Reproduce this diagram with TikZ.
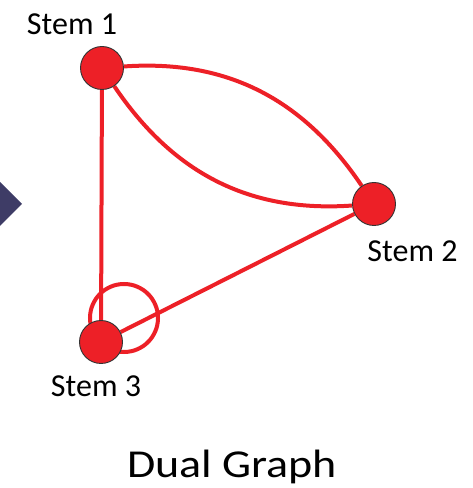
\documentclass[tikz,border=0pt]{standalone}
\usepackage{fontspec}
\setmainfont{Carlito}
\definecolor{stemred}{RGB}{237,32,39}
\definecolor{navy}{RGB}{62,60,102}
\begin{document}
\begin{tikzpicture}[x=1pt,y=1pt,
  stem/.style={circle,fill=stemred,draw=black!80,line width=0.9pt,minimum size=43pt,inner sep=0pt},
  edge/.style={draw=stemred,line width=4pt},
  lbl/.style={anchor=base,inner sep=0pt,font=\fontsize{32}{36}\selectfont}]
\useasboundingbox (0,0) rectangle (472,488);
% chevron pointing into the graph
\fill[navy] (0,306) -- (22,284) -- (0,262) -- cycle;
% edges
\coordinate (s1c) at (102,420);
\coordinate (s2c) at (374,284);
\coordinate (s3c) at (101,146);
\node[stem,fill=none,draw=none] (s1) at (s1c) {};
\node[stem,fill=none,draw=none] (s2) at (s2c) {};
\node[stem,fill=none,draw=none] (s3) at (s3c) {};
\draw[edge] (s1) to[out=4,in=124] (s2);
\draw[edge] (s1) to[out=-56,in=184] (s2);
\draw[edge] (s1) -- (s3);
\draw[edge] (s3) -- (s2);
\draw[edge] ([shift={(23pt,24pt)}]s3.center) circle[radius=34pt];
% vertices
\node[stem] at (s1c) {};
\node[stem] at (s2c) {};
\node[stem] at (s3c) {};
% labels
\node[lbl] (l1) at (72,453) {Stem 1};
\node[lbl] (l2) at (412.5,226) {Stem 2};
\node[lbl] (l3) at (96,91) {Stem 3};
\node[anchor=base,inner sep=0pt,font=\fontsize{46}{52}\selectfont] (title) at (232,10) {\scalebox{1}[0.86]{Dual Graph}};
\end{tikzpicture}
\end{document}
